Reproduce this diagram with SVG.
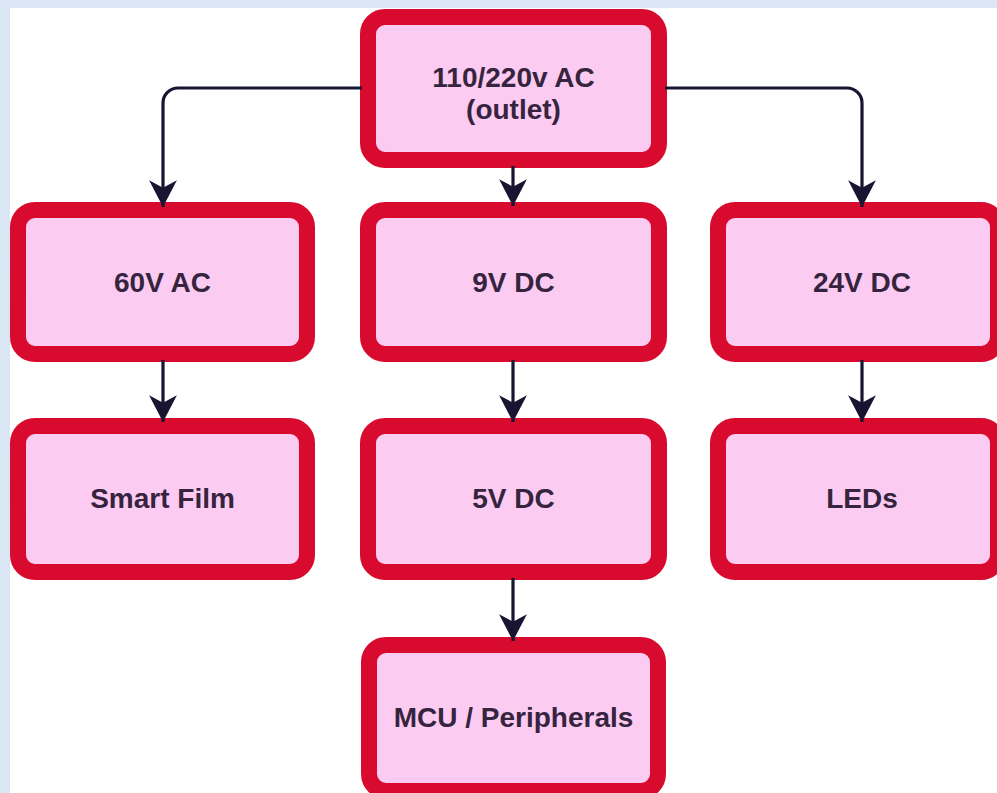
<svg xmlns="http://www.w3.org/2000/svg" width="997" height="793" viewBox="0 0 997 793">
  <style>
    .box { fill: #fccbf2; stroke: #d80b2e; stroke-width: 16; }
    .label { font-family: "Liberation Sans", Arial, sans-serif; font-size: 28px; font-weight: bold; fill: #36243f; text-anchor: middle; }
    .wire { fill: none; stroke: #1a1433; stroke-width: 3.2; marker-end: url(#head); }
  </style>
  <defs>
    <marker id="head" markerUnits="userSpaceOnUse" markerWidth="30" markerHeight="30" viewBox="-26 -14 28 28" refX="0" refY="0" orient="auto">
      <path d="M0,0 L-25,-13 L-18,0 L-25,13 Z" fill="#1a1433"/>
    </marker>
  </defs>

  <!-- page background with pale frame -->
  <rect x="0" y="0" width="997" height="793" fill="#dae6f3"/>
  <rect x="10" y="8" width="987" height="785" fill="#ffffff"/>

  <g id="node-outlet">
    <rect class="box" x="368" y="17" width="291" height="143" rx="17"/>
    <text class="label" x="513.5" y="87">110/220v AC</text>
    <text class="label" x="513.5" y="118.5">(outlet)</text>
  </g>
  <g id="node-60vac">
    <rect class="box" x="18" y="210" width="289" height="144" rx="17"/>
    <text class="label" x="162.5" y="292">60V AC</text>
  </g>
  <g id="node-9vdc">
    <rect class="box" x="368" y="210" width="291" height="144" rx="17"/>
    <text class="label" x="513.5" y="292">9V DC</text>
  </g>
  <g id="node-24vdc">
    <rect class="box" x="718" y="210" width="280" height="144" rx="17"/>
    <text class="label" x="862" y="292">24V DC</text>
  </g>
  <g id="node-smartfilm">
    <rect class="box" x="18" y="426" width="289" height="146" rx="17"/>
    <text class="label" x="162.5" y="508">Smart Film</text>
  </g>
  <g id="node-5vdc">
    <rect class="box" x="368" y="426" width="291" height="146" rx="17"/>
    <text class="label" x="513.5" y="508">5V DC</text>
  </g>
  <g id="node-leds">
    <rect class="box" x="718" y="426" width="280" height="146" rx="17"/>
    <text class="label" x="862" y="508">LEDs</text>
  </g>
  <g id="node-mcu">
    <rect class="box" x="369" y="645" width="289" height="146" rx="17"/>
    <text class="label" x="513.5" y="727">MCU / Peripherals</text>
  </g>

  <g id="connectors">
    <path class="wire" d="M362,88 H178 A15,15 0 0 0 163,103 V207"/>
    <path class="wire" d="M513,166 V206"/>
    <path class="wire" d="M665,88 H847 A15,15 0 0 1 862,103 V207"/>
    <path class="wire" d="M163,360 V422"/>
    <path class="wire" d="M513,360 V422"/>
    <path class="wire" d="M862,360 V422"/>
    <path class="wire" d="M513,578 V641"/>
  </g>
</svg>
